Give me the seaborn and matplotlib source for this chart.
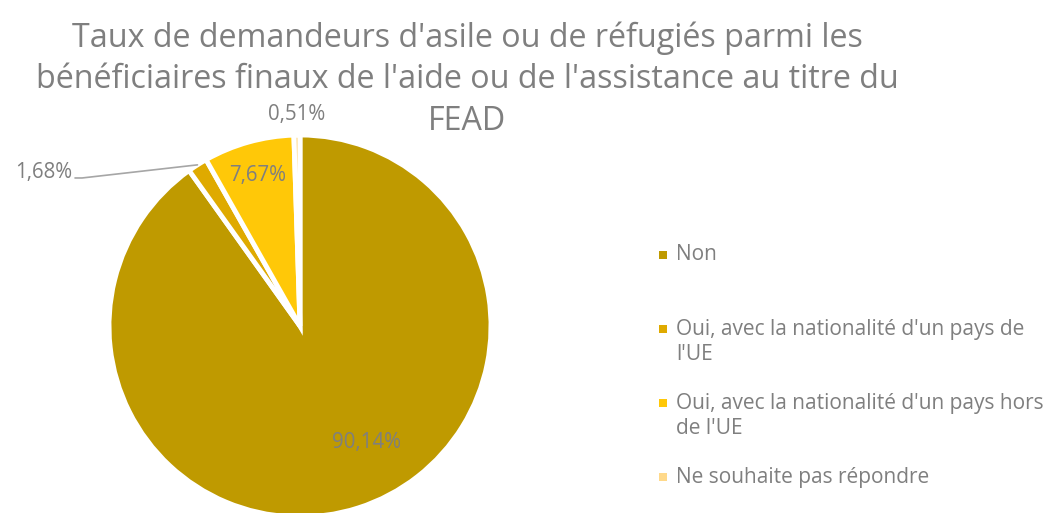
import numpy as np
import matplotlib
matplotlib.use("Agg")
import matplotlib.pyplot as plt
from matplotlib.patches import Rectangle
import seaborn as sns

# Survey answers and their shares (%)
categories = [
    "Non",
    "Oui, avec la nationalité d'un pays de\nl'UE",
    "Oui, avec la nationalité d'un pays hors\nde l'UE",
    "Ne souhaite pas répondre",
]
shares = [90.14, 1.68, 7.67, 0.51]
share_labels = ["90,14%", "1,68%", "7,67%", "0,51%"]
colors = ["#BF9A00", "#DFAA00", "#FFC808", "#FFD98A"]

title_lines = [
    "Taux de demandeurs d'asile ou de réfugiés parmi les",
    "bénéficiaires finaux de l'aide ou de l'assistance au titre du",
    "FEAD",
]

sns.set_theme(style="white")
plt.rcParams["font.family"] = ["Open Sans", "DejaVu Sans"]
text_gray = "#7F7F7F"

W, H = 1048, 513
fig = plt.figure(figsize=(W / 100, H / 100), dpi=100)
fig.patch.set_facecolor("white")

# pie axes: centre (300, 326) px, radius 191 px
cx, cy, r = 300, 326, 191
ax = fig.add_axes([(cx - r) / W, (H - cy - r) / H, 2 * r / W, 2 * r / H])
wedges, _ = ax.pie(
    shares, colors=colors, startangle=90, counterclock=False,
    wedgeprops=dict(edgecolor="white", linewidth=3.5),
)
ax.set_xlim(-1, 1)
ax.set_ylim(-1, 1)
ax.set_aspect("equal")
ax.axis("off")

def mid_angle(w):
    return np.deg2rad((w.theta1 + w.theta2) / 2)

lab_kw = dict(color=text_gray, fontsize=14.8, va="center", clip_on=False)

# Non: inside the slice
ax.text(0.35, -0.61, share_labels[0], ha="center", **lab_kw)

# hors UE: inside, near rim
a = mid_angle(wedges[2])
ax.text(0.82 * np.cos(a), 0.82 * np.sin(a), share_labels[2], ha="center", **lab_kw)

# Ne souhaite pas répondre: just above the rim
a = mid_angle(wedges[3])
ax.text(1.11 * np.cos(a), 1.11 * np.sin(a), share_labels[3], ha="center", **lab_kw)

# UE: outside with leader line
a = mid_angle(wedges[1])
ex, ey = np.cos(a), np.sin(a)
ax.plot([-1.178, -1.141, ex], [0.775, 0.775, ey], color="#A6A6A6",
        linewidth=1.2, clip_on=False)
ax.text(-1.194, 0.806, share_labels[1], ha="right", **lab_kw)

# Title, one line at a time
for i, line in enumerate(title_lines):
    fig.text(467 / W, 1 - (38 + 42 * i) / H, line, ha="center", va="center",
             fontsize=23.2, color=text_gray)

# Legend entries (marker aligned with the first line of each label)
leg_x, leg_y = 663, [255, 329, 403, 477]
for lab, col, y in zip(categories, colors, leg_y):
    fig.add_artist(Rectangle(((leg_x - 4) / W, 1 - (y + 4) / H), 8 / W, 8 / H,
                             transform=fig.transFigure, facecolor=col,
                             edgecolor="none"))
    for j, part in enumerate(lab.split("\n")):
        fig.text((leg_x + 13) / W, 1 - (y + 26 * j) / H, part, ha="left",
                 va="center", fontsize=15, color=text_gray)

fig.savefig("out.png", dpi=100, facecolor="white")
